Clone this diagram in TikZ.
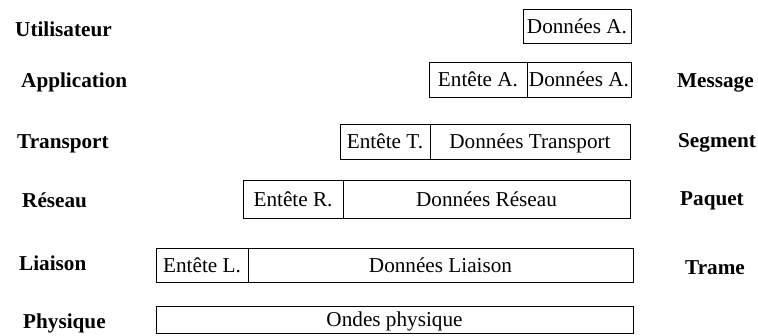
\documentclass[tikz,border=0pt]{standalone}
\usepackage{fontspec}
\setmainfont{Liberation Serif}
\usepackage{tikz}

\begin{document}
\begin{tikzpicture}[x=1pt,y=-1pt,
    couche/.style={font=\fontsize{21.2}{24}\selectfont\bfseries,anchor=west,inner sep=0pt},
    champ/.style={draw,line width=0.8pt,anchor=north west,inner sep=0pt,outer sep=0pt,
      text height=14pt,text depth=0pt,font=\fontsize{21.2}{24}\selectfont}]
    \useasboundingbox (0,0) rectangle (758,335);
    % couches
    \node[couche] (util) at (15,29) {Utilisateur};
    \node[couche] (appl) at (21,82) {Application};
    \node[couche] (trans) at (17,144) {Transport};
    \node[couche] (res) at (22,200) {Réseau};
    \node[couche] (liai) at (19,263) {Liaison};
    \node[couche] (phys) at (23,323) {Physique};
    % unites
    \node[couche] (msg) at (677,83) {Message};
    \node[couche] (seg) at (678,143) {Segment};
    \node[couche] (paq) at (680,201) {Paquet};
    \node[couche] (tram) at (685,268) {Trame};
    % champs
    \node[champ,minimum width=108pt,minimum height=34pt] (dA) at (523,9) {Données A.};
    \node[champ,minimum width=98pt,minimum height=35pt] (eA) at (429,62) {Entête A.};
    \node[champ,minimum width=104pt,minimum height=35pt] (dA2) at (eA.north east) {Données A.};
    \node[champ,minimum width=90pt,minimum height=35pt] (eT) at (340,124) {Entête T.};
    \node[champ,minimum width=200pt,minimum height=35pt] (dT) at (eT.north east) {Données Transport};
    \node[champ,minimum width=100pt,minimum height=38pt] (eR) at (243,180) {Entête R.};
    \node[champ,minimum width=287pt,minimum height=38pt] (dR) at (eR.north east) {Données Réseau};
    \node[champ,minimum width=92pt,minimum height=34pt] (eL) at (156,248) {Entête L.};
    \node[champ,minimum width=385pt,minimum height=34pt] (dL) at (eL.north east) {Données Liaison};
    \node[champ,minimum width=477pt,minimum height=27pt] (ondes) at (156,306) {Ondes physique};
\end{tikzpicture}
\end{document}
